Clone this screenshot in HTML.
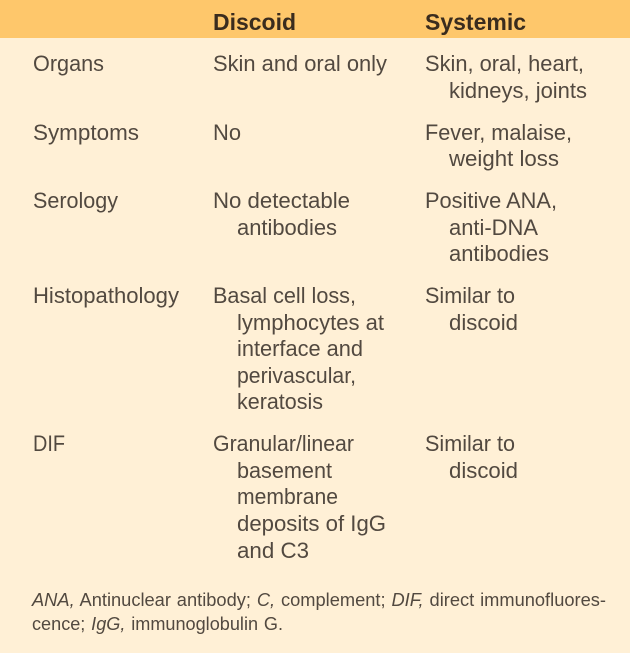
<!DOCTYPE html>
<html>
<head>
<meta charset="utf-8">
<style>
html,body{margin:0;padding:0;width:630px;height:653px;overflow:hidden;background:#fff0d6}
svg{display:block}
text{font-family:"Liberation Sans",sans-serif;font-size:22px;fill:#524940}
.h{font-weight:bold;fill:#3a2c1e;font-size:23px}
.f{font-size:18px;fill:#524940;word-spacing:0.8px}
.i{font-style:italic}
</style>
</head>
<body>
<svg width="630" height="653" viewBox="0 0 630 653" xmlns="http://www.w3.org/2000/svg">
<rect width="630" height="653" fill="#fff0d6"/>
<rect width="630" height="38" fill="#fec76b"/>
<text class="h" x="213" y="30" textLength="83" lengthAdjust="spacingAndGlyphs">Discoid</text>
<text class="h" x="425" y="30" textLength="101" lengthAdjust="spacingAndGlyphs">Systemic</text>

<text x="33" y="71" textLength="71" lengthAdjust="spacingAndGlyphs">Organs</text>
<text x="213" y="71" textLength="174" lengthAdjust="spacingAndGlyphs">Skin and oral only</text>
<text x="425" y="71" textLength="159" lengthAdjust="spacingAndGlyphs">Skin, oral, heart,</text>
<text x="449" y="98" textLength="138" lengthAdjust="spacingAndGlyphs">kidneys, joints</text>

<text x="33" y="140" textLength="106" lengthAdjust="spacingAndGlyphs">Symptoms</text>
<text x="213" y="140" textLength="28" lengthAdjust="spacingAndGlyphs">No</text>
<text x="425" y="140" textLength="147" lengthAdjust="spacingAndGlyphs">Fever, malaise,</text>
<text x="449" y="166" textLength="110" lengthAdjust="spacingAndGlyphs">weight loss</text>

<text x="33" y="208" textLength="85" lengthAdjust="spacingAndGlyphs">Serology</text>
<text x="213" y="208" textLength="137" lengthAdjust="spacingAndGlyphs">No detectable</text>
<text x="237" y="235" textLength="100" lengthAdjust="spacingAndGlyphs">antibodies</text>
<text x="425" y="208" textLength="132" lengthAdjust="spacingAndGlyphs">Positive ANA,</text>
<text x="449" y="235" textLength="89" lengthAdjust="spacingAndGlyphs">anti-DNA</text>
<text x="449" y="261" textLength="100" lengthAdjust="spacingAndGlyphs">antibodies</text>

<text x="33" y="303" textLength="146" lengthAdjust="spacingAndGlyphs">Histopathology</text>
<text x="213" y="303" textLength="143" lengthAdjust="spacingAndGlyphs">Basal cell loss,</text>
<text x="237" y="330" textLength="147" lengthAdjust="spacingAndGlyphs">lymphocytes at</text>
<text x="237" y="356" textLength="126" lengthAdjust="spacingAndGlyphs">interface and</text>
<text x="237" y="383" textLength="119" lengthAdjust="spacingAndGlyphs">perivascular,</text>
<text x="237" y="409" textLength="86" lengthAdjust="spacingAndGlyphs">keratosis</text>
<text x="425" y="303" textLength="90" lengthAdjust="spacingAndGlyphs">Similar to</text>
<text x="449" y="330" textLength="69" lengthAdjust="spacingAndGlyphs">discoid</text>

<text x="33" y="451" textLength="32" lengthAdjust="spacingAndGlyphs">DIF</text>
<text x="213" y="451" textLength="141" lengthAdjust="spacingAndGlyphs">Granular/linear</text>
<text x="237" y="478" textLength="95" lengthAdjust="spacingAndGlyphs">basement</text>
<text x="237" y="504" textLength="101" lengthAdjust="spacingAndGlyphs">membrane</text>
<text x="237" y="531" textLength="149" lengthAdjust="spacingAndGlyphs">deposits of IgG</text>
<text x="237" y="558" textLength="72" lengthAdjust="spacingAndGlyphs">and C3</text>
<text x="425" y="451" textLength="90" lengthAdjust="spacingAndGlyphs">Similar to</text>
<text x="449" y="478" textLength="69" lengthAdjust="spacingAndGlyphs">discoid</text>

<text class="f" x="32" y="606" textLength="574" lengthAdjust="spacingAndGlyphs"><tspan class="i">ANA,</tspan> Antinuclear antibody; <tspan class="i">C,</tspan> complement; <tspan class="i">DIF,</tspan> direct immunofluores-</text>
<text class="f" x="32" y="630" textLength="251" lengthAdjust="spacingAndGlyphs"><tspan>cence; </tspan><tspan class="i">IgG,</tspan> immunoglobulin G.</text>
</svg>
</body>
</html>
